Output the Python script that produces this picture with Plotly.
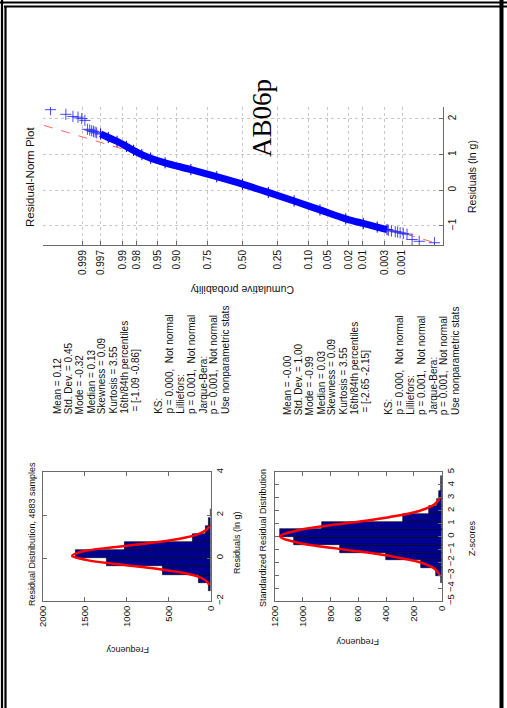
import plotly.graph_objects as go
from statistics import NormalDist

# ---------------- data ----------------
# Normal probability plot (cumulative probability, residual in ln g)
norm_tail_hi_prob = [0.99990, 0.99969, 0.99949, 0.99928, 0.99908, 0.99887,
                     0.99867, 0.99846, 0.99826, 0.99805, 0.99785, 0.99764]
norm_tail_hi_resid = [2.26, 2.13, 2.07, 2.05, 2.01, 1.96,
                      1.71, 1.69, 1.67, 1.65, 1.63, 1.61]
norm_body_prob = [0.99702, 0.99534, 0.99245, 0.98778, 0.98257, 0.97441, 0.96246,
                  0.93319, 0.84134, 0.69146, 0.50000, 0.30854, 0.15866, 0.06681,
                  0.02275, 0.00964, 0.00453, 0.00256]
norm_body_resid = [1.58, 1.48, 1.37, 1.23, 1.12, 1.00, 0.90,
                   0.77, 0.58, 0.38, 0.17, -0.06, -0.30, -0.55,
                   -0.80, -0.93, -1.03, -1.10]
norm_tail_lo_prob = [0.00236, 0.00195, 0.00154, 0.00133, 0.00113, 0.00092,
                     0.00072, 0.00051, 0.00031, 0.00010]
norm_tail_lo_resid = [-1.12, -1.14, -1.16, -1.17, -1.19, -1.21,
                      -1.23, -1.38, -1.43, -1.47]
ref_prob = [0.99994, 0.00009]
ref_resid = [1.82, -1.48]
prob_ticks = [0.001, 0.003, 0.01, 0.02, 0.05, 0.10, 0.25, 0.50, 0.75, 0.90,
              0.95, 0.98, 0.99, 0.997, 0.999]
prob_tick_labels = ["0.001", "0.003", "0.01", "0.02", "0.05", "0.10", "0.25",
                    "0.50", "0.75", "0.90", "0.95", "0.98", "0.99", "0.997", "0.999"]

# Residual histogram (ln g)
hist1_centers = [-1.34, -0.96, -0.58, -0.19, 0.19, 0.57, 0.94, 1.31, 1.69, 2.08]
hist1_counts = [28, 147, 571, 1238, 1607, 1028, 218, 58, 18, 5]
fit1_resid = [-1.25, -1.1, -0.9, -0.7, -0.5, -0.3, -0.1, 0.1, 0.3, 0.5, 0.7,
              0.9, 1.1, 1.3, 1.48]
fit1_freq = [18, 42, 127, 315, 642, 1073, 1471, 1650, 1530, 1162, 723,
             370, 155, 53, 14]

# Standardized residual histogram (z-scores)
hist2_centers = [-3.33, -2.73, -2.14, -1.54, -0.95, -0.35, 0.25, 0.84, 1.44,
                 2.03, 2.63, 3.22, 3.82, 4.41]
hist2_counts = [7, 43, 149, 401, 732, 1063, 1164, 864, 281, 89, 36, 17, 7, 3]
fit2_z = [-3.0, -2.5, -2.0, -1.5, -1.0, -0.5, 0.0, 0.5, 1.0, 1.5, 2.0, 2.5, 3.0]
fit2_freq = [13, 51, 157, 378, 705, 1025, 1162, 1025, 705, 378, 157, 51, 13]

stats1 = ["Mean = 0.12", "Std. Dev. = 0.45", "Mode = -0.32", "Median = 0.13",
          "Skewness = 0.09", "Kurtosis = 3.55", "16th/84th percentiles",
          "\u00a0= [-1.09 -0.86]", "", "KS:", "p = 0.000,\u00a0 Not normal",
          "Lilliefors:", "p = 0.001,\u00a0 Not normal", "Jarque-Bera:",
          "p = 0.001,\u00a0 Not normal", "Use nonparametric stats"]
stats2 = ["Mean = -0.00", "Std. Dev. = 1.00", "Mode = -0.99", "Median = 0.03",
          "Skewness = 0.09", "Kurtosis = 3.55", "16th/84th percentiles",
          "\u00a0= [-2.65 -2.15]", "", "KS:", "p = 0.000,\u00a0 Not normal",
          "Lilliefors:", "p = 0.001,\u00a0 Not normal", "Jarque-Bera:",
          "p = 0.001,\u00a0 Not normal", "Use nonparametric stats"]

# ---------------- helpers ----------------
W, H = 507, 708
nd = NormalDist()


def zq(p_list):
    return [nd.inv_cdf(p) for p in p_list]


def px(x):
    return x / W


def py(y):
    return 1 - y / H


FONT = "Arial, Liberation Sans, sans-serif"
AX = "#6a6a6a"
BLUE = "#0000ff"
NAVY = "#00008f"

fig = go.Figure()

# ---- normal probability plot (x = probability, y = residual) ----
fig.add_trace(go.Scatter(x=zq(ref_prob), y=ref_resid, mode="lines",
                         line=dict(color="rgba(255,60,60,0.8)", width=1, dash="dash"),
                         xaxis="x", yaxis="y", showlegend=False))
fig.add_trace(go.Scatter(x=zq(norm_body_prob), y=norm_body_resid, mode="lines+markers",
                         line=dict(color=BLUE, width=7, shape="spline"),
                         marker=dict(symbol="cross-thin", size=8,
                                     line=dict(color=BLUE, width=1)),
                         xaxis="x", yaxis="y", showlegend=False))
tail_p = norm_tail_hi_prob + norm_tail_lo_prob
tail_r = norm_tail_hi_resid + norm_tail_lo_resid
fig.add_trace(go.Scatter(x=zq(tail_p), y=tail_r, mode="markers",
                         marker=dict(symbol="cross-thin", size=8,
                                     line=dict(color="rgba(40,40,255,0.85)", width=1)),
                         xaxis="x", yaxis="y", showlegend=False))

# ---- histogram 1 ----
fig.add_trace(go.Bar(y=hist1_centers, x=hist1_counts, orientation="h",
                     width=0.383, marker=dict(color=NAVY, line=dict(color="black", width=0.6)),
                     xaxis="x2", yaxis="y2", showlegend=False))
fig.add_trace(go.Scatter(x=fit1_freq, y=fit1_resid, mode="lines",
                         line=dict(color="#ff0000", width=2.5, shape="spline"),
                         xaxis="x2", yaxis="y2", showlegend=False))

# ---- histogram 2 ----
fig.add_trace(go.Bar(y=hist2_centers, x=hist2_counts, orientation="h",
                     width=0.596, marker=dict(color=NAVY, line=dict(color="black", width=0.6)),
                     xaxis="x3", yaxis="y3", showlegend=False))
fig.add_trace(go.Scatter(x=fit2_freq, y=fit2_z, mode="lines",
                         line=dict(color="#ff0000", width=2.5, shape="spline"),
                         xaxis="x3", yaxis="y3", showlegend=False))

tickfont = dict(family=FONT, size=10, color="#111")
tickfont_s = dict(family=FONT, size=9.5, color="#111")

common_ax = dict(showline=True, linecolor=AX, linewidth=1, ticks="inside",
                 tickcolor=AX, ticklen=4, zeroline=False, tickangle=-90,
                 automargin=False)

fig.update_layout(
    width=W, height=H, margin=dict(l=0, r=0, t=0, b=0),
    paper_bgcolor="white", plot_bgcolor="white", bargap=0,
    font=dict(family=FONT, color="#111"),
    xaxis=dict(domain=[px(43), px(443)], range=[3.865, -3.884],
               tickvals=zq(prob_ticks), ticktext=prob_tick_labels,
               showgrid=True, gridcolor="#c8c8c8", griddash="dot", gridwidth=1,
               anchor="y", tickfont=tickfont, mirror=False, **common_ax),
    yaxis=dict(domain=[py(245), py(107)], range=[-1.534, 2.335],
               tickvals=[-1, 0, 1, 2], side="right", anchor="x",
               showgrid=True, gridcolor="#c8c8c8", griddash="dot", gridwidth=1,
               tickfont=tickfont, mirror=False, **common_ax),
    xaxis2=dict(domain=[px(42.7), px(210.7)], range=[2000, 0],
                tickvals=[0, 500, 1000, 1500, 2000], anchor="y2",
                showgrid=False, mirror="ticks", tickfont=tickfont_s, **common_ax),
    yaxis2=dict(domain=[py(601), py(472)], range=[-2, 4],
                tickvals=[-2, 0, 2, 4], side="right", anchor="x2",
                showgrid=False, mirror="ticks", tickfont=tickfont_s, **common_ax),
    xaxis3=dict(domain=[px(275), px(441.7)], range=[1200, 0],
                tickvals=[0, 200, 400, 600, 800, 1000, 1200], anchor="y3",
                showgrid=False, mirror="ticks", tickfont=tickfont_s, **common_ax),
    yaxis3=dict(domain=[py(601), py(472)], range=[-5, 5],
                tickvals=list(range(-5, 6)), side="right", anchor="x3",
                showgrid=False, mirror="ticks", tickfont=tickfont_s, **common_ax),
)

ann = []


def txt(x, y, s, size, angle=-90, xa="center", ya="middle", family=FONT, color="#111"):
    ann.append(dict(x=px(x), y=py(y), xref="paper", yref="paper", text=s,
                    showarrow=False, textangle=angle, xanchor=xa, yanchor=ya,
                    font=dict(family=family, size=size, color=color)))


# titles and labels
txt(30, 177, "Residual-Norm Plot", 11.5)
txt(472, 177, "Residuals (ln g)", 10.5)
txt(242, 290, "Cumulative probability", 10.5, angle=180)
txt(262, 118, "AB06p", 27, family="Liberation Serif, Times New Roman, serif", color="#000")

txt(32, 534, "Residual Distribution, 4883 samples", 9)
txt(237, 543, "Residuals (ln g)", 9)
txt(128, 650, "Frequency", 9, angle=180)

txt(263, 538, "Standardized Residual Distribution", 9)
txt(472, 538, "Z-scores", 9)
txt(358, 642, "Frequency", 9, angle=180)

for i, s in enumerate(stats1):
    if s:
        txt(57 + 11.2 * i, 416, s, 10, ya="bottom")
for i, s in enumerate(stats2):
    if s:
        txt(287 + 11.2 * i, 417, s, 10, ya="bottom")

fig.update_layout(annotations=ann)

# page frame (pixel coordinates)
shapes = []


def hseg(y, x0, x1, w):
    shapes.append(dict(type="line", xref="paper", yref="paper",
                       x0=px(x0), x1=px(x1), y0=py(y), y1=py(y),
                       line=dict(color="black", width=w), layer="above"))


def vseg(x, y0, y1, w):
    shapes.append(dict(type="line", xref="paper", yref="paper",
                       x0=px(x), x1=px(x), y0=py(y0), y1=py(y1),
                       line=dict(color="black", width=w), layer="above"))


hseg(2.5, 0, 507, 2)         # outer top
hseg(6.5, 4, 507, 2)         # inner top
vseg(2.0, 0, 708, 2.2)       # outer left
vseg(5.5, 6, 708, 2.2)       # inner left
vseg(501.5, 0, 708, 4)       # right thick
fig.update_layout(shapes=shapes)

fig.write_html("out.html", config={"displayModeBar": False},
               post_script=("document.documentElement.style.margin='0';"
                            "document.body.style.margin='0';"
                            "document.body.style.padding='0';"
                            "document.documentElement.style.overflow='hidden';"
                            "document.body.style.overflow='hidden';"
                            "window.scrollTo(0,0);"))
